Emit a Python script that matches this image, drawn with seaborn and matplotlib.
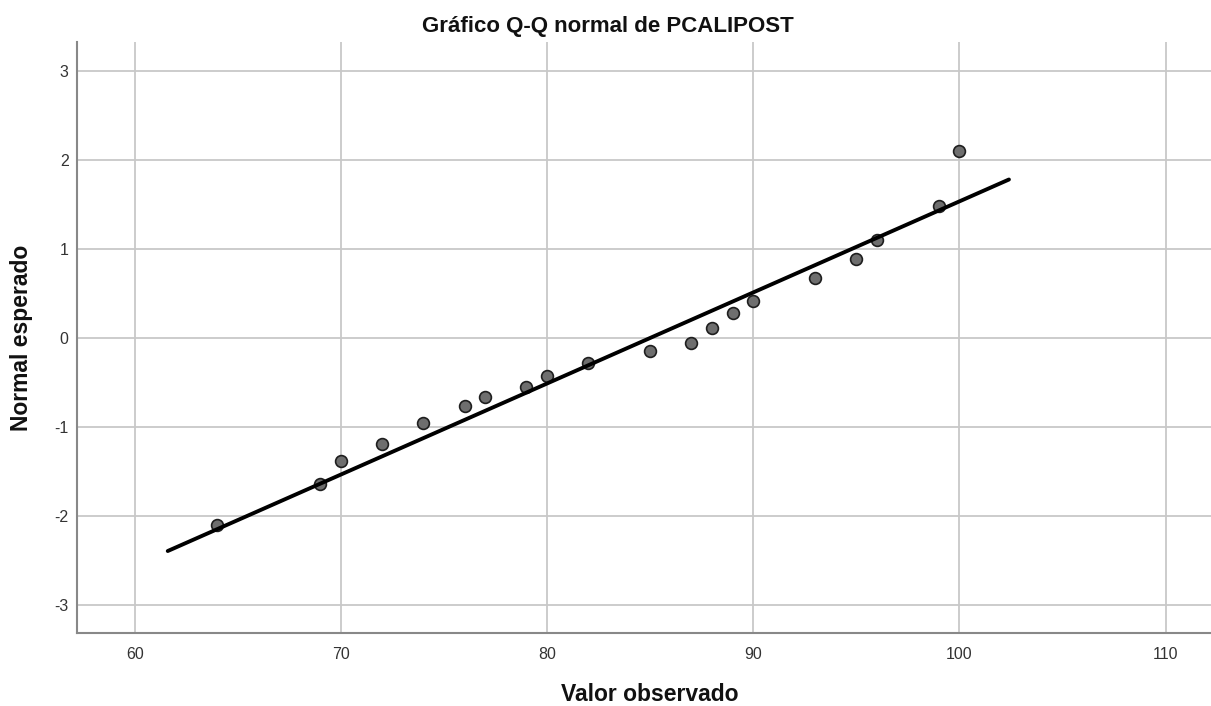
import matplotlib
matplotlib.use("Agg")
import matplotlib.pyplot as plt
import seaborn as sns
import pandas as pd
import numpy as np

# Data
observed = [64, 69, 70, 72, 74, 76, 77, 79, 80, 82, 85, 87, 88, 89, 90, 93, 95, 96, 99, 100]
expected = [-2.10, -1.64, -1.38, -1.19, -0.96, -0.77, -0.66, -0.55, -0.43, -0.28,
            -0.15, -0.06, 0.11, 0.28, 0.42, 0.67, 0.89, 1.10, 1.48, 2.10]
line_x = [61.6, 102.4]
line_mean = 85.0
line_sd = 9.76
x_ticks = [60, 70, 80, 90, 100, 110]
y_ticks = [-3, -2, -1, 0, 1, 2, 3]

sns.set_theme(style="white")
plt.rcParams['font.family'] = ['Liberation Sans', 'DejaVu Sans']

fig = plt.figure(figsize=(12.11, 7.06), dpi=100)
ax = fig.add_axes([0.0636, 0.1034, 0.9364, 0.8371])

df_pts = pd.DataFrame({"x": observed, "y": expected})
df_line = pd.DataFrame({"x": line_x, "y": [(v - line_mean) / line_sd for v in line_x]})

sns.scatterplot(data=df_pts, x="x", y="y", ax=ax, s=72, color="#6e6e6e",
                edgecolor="#1e1e1e", linewidth=1.2, zorder=3)
sns.lineplot(data=df_line, x="x", y="y", ax=ax, color="black", linewidth=2.8, zorder=4)

ax.set_xlim(57.2, 112.2)
ax.set_ylim(-3.32, 3.33)
ax.set_xticks(x_ticks)
ax.set_yticks(y_ticks)
ax.set_xticklabels([str(t) for t in x_ticks])
ax.set_yticklabels([str(t) for t in y_ticks])
ax.grid(True, color="#c8c8c8", linewidth=1.3)
ax.set_axisbelow(True)
ax.tick_params(axis="both", length=0, labelsize=11.5, colors="#333333")
ax.tick_params(axis="x", pad=10)
ax.tick_params(axis="y", pad=6)

for s in ["top", "right"]:
    ax.spines[s].set_visible(False)
for s in ["left", "bottom"]:
    ax.spines[s].set_color("#888888")
    ax.spines[s].set_linewidth(1.5)

ax.set_xlabel("")
ax.set_ylabel("")
fig.text(650 / 1211, 1 - 701 / 706, "Valor observado", fontsize=16.5, fontweight="bold",
         ha="center", va="baseline", color="#111111")
fig.text(22 / 1211, 1 - 338 / 706, "Normal esperado", fontsize=16.5, fontweight="bold",
         ha="center", va="center", rotation=90, color="#111111")
fig.text(608 / 1211, 1 - 32 / 706, "Gráfico Q-Q normal de PCALIPOST", fontsize=16,
         fontweight="bold", ha="center", va="baseline", color="#111111")

fig.savefig("out.png", dpi=100)
